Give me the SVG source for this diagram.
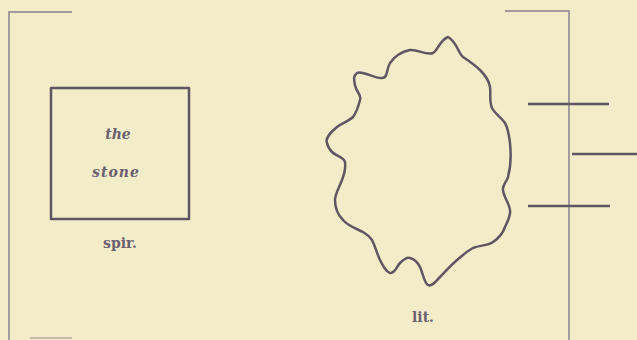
<svg xmlns="http://www.w3.org/2000/svg" width="637" height="340" viewBox="0 0 637 340">
<style>
.frame{fill:none;stroke:#a39c9e;stroke-width:2}
.ink{fill:none;stroke:#5e5663;stroke-width:2.5;stroke-linejoin:round}
.tick{stroke:#5e5663;stroke-width:2.5}
.it{font-family:"DejaVu Serif","Liberation Serif",serif;font-style:italic;font-weight:bold;font-size:14px;fill:#6a6070;text-anchor:middle}
.lb{font-family:"DejaVu Serif","Liberation Serif",serif;font-weight:bold;font-size:14px;fill:#6a6070;text-anchor:middle}
</style>
<rect width="637" height="340" fill="#f3ecc8"/>
<g id="frames">
<path class="frame" d="M72 12 H9 V340"/>
<path class="frame" d="M30 338 H72" opacity="0.6"/>
<path class="frame" d="M505 11 H569 V340"/>
</g>
<g id="stone">
<rect class="ink" x="51" y="88" width="138" height="131"/>
<text class="it" x="118" y="139">the</text>
<text class="it" x="116" y="177" letter-spacing="1">stone</text>
<text class="lb" x="120" y="248">spir.</text>
</g>
<g id="blob">
<path class="ink" d="M448 37 C440 40 438 50 433 53 C426 56 418 49 410 50 C400 52 394 57 390 63 C386 70 388 78 382 78 C375 79 362 70 357 73 C353 76 354 80 355 85 C356 92 362 95 360 100 C358 108 356 113 353 117 C349 121 342 123 337 127 C330 133 325 138 327 143 C328 148 330 150 332 152 C336 156 344 157 345 162 C346 170 344 175 342 180 C339 188 335 194 335 200 C335 208 338 215 343 220 C348 226 357 229 363 232 C368 235 370 237 372 240 C376 248 377 254 380 260 C383 266 386 272 390 273 C395 274 397 266 400 263 C404 259 407 257 410 258 C414 259 418 263 420 267 C423 273 424 283 428 285 C432 287 436 281 440 277 C446 271 451 265 457 260 C462 256 467 251 473 248 C480 245 487 246 493 242 C499 238 503 233 505 227 C508 221 511 215 510 210 C509 202 502 195 503 188 C504 183 507 181 508 177 C511 166 511 153 510 143 C509 135 508 128 505 123 C501 117 495 114 492 108 C489 101 491 94 490 87 C489 80 485 75 480 70 C475 65 469 61 463 57 C458 53 457 42 448 37 Z"/>
<text class="lb" x="423" y="322">lit.</text>
</g>
<g id="ticks">
<line class="tick" x1="528" y1="104" x2="609" y2="104"/>
<line class="tick" x1="572" y1="154" x2="637" y2="154"/>
<line class="tick" x1="528" y1="206" x2="610" y2="206"/>
</g>
</svg>
